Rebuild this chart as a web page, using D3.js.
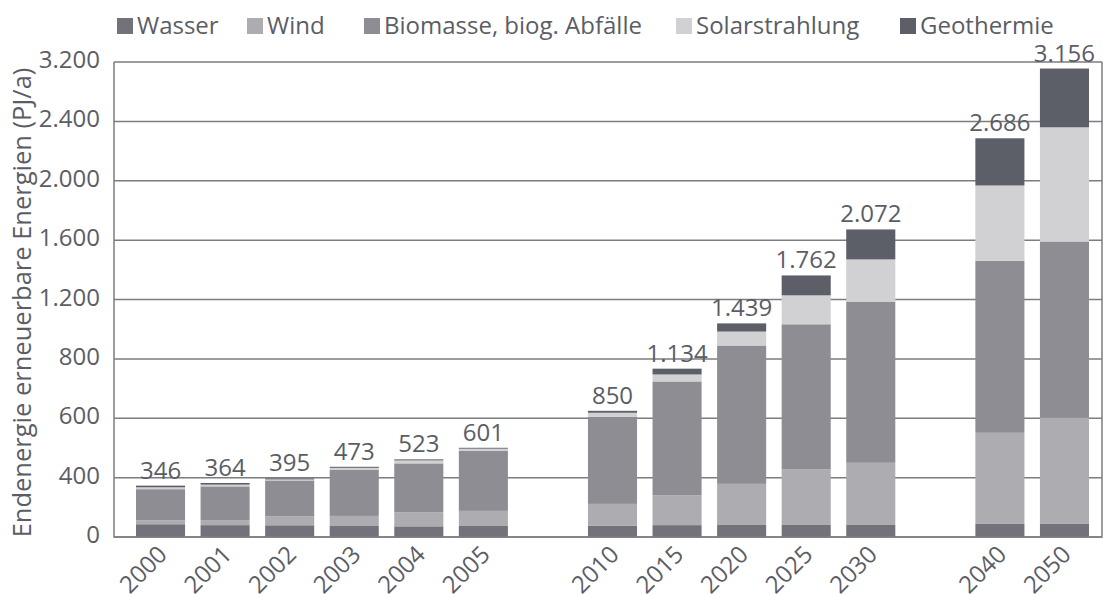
<!DOCTYPE html>
<html>
<head>
<meta charset="utf-8">
<script src="https://cdn.jsdelivr.net/npm/d3@7"></script>
<style>
  body { margin: 0; background: #fff; }
  text { font-family: "Open Sans", "Noto Sans", sans-serif; fill: #5b5d66; }
</style>
</head>
<body>
<svg id="vis" width="1103" height="594"></svg>
<script>
// slots in the x axis; "gap1"/"gap2" are empty spaces between the groups
const slots = ["2000", "2001", "2002", "2003", "2004", "2005", "gap1",
  "2010", "2015", "2020", "2025", "2030", "gap2", "2040", "2050"];
const years = ["2000", "2001", "2002", "2003", "2004", "2005",
  "2010", "2015", "2020", "2025", "2030", "2040", "2050"];

const wasser     = [86, 80, 79, 74, 72, 74, 75, 80, 81, 81, 81, 88, 88];
const wind       = [27, 34, 60, 68, 94, 102, 148, 202, 277, 376, 419, 614, 715];
const biomasse   = [209, 227, 242, 312, 330, 406, 587, 766, 932, 976, 1086, 1160, 1188];
const solar      = [13, 12, 7, 12, 20, 13, 27, 47, 94, 195, 284, 506, 769];
const geothermie = [11, 11, 7, 7, 7, 6, 13, 39, 55, 134, 202, 318, 396];
const totals     = ["346", "364", "395", "473", "523", "601",
  "850", "1.134", "1.439", "1.762", "2.072", "2.686", "3.156"];

const seriesNames = ["Wasser", "Wind", "Biomasse, biog. Abfälle", "Solarstrahlung", "Geothermie"];
const seriesKeys = ["wasser", "wind", "biomasse", "solar", "geothermie"];
const colors = ["#72727b", "#adacb0", "#8e8d93", "#d1d0d3", "#5c5e68"];

const yTicks = [0, 400, 800, 1200, 1600, 2000, 2400, 2800, 3200];
const yTickLabels = ["0", "400", "600", "800", "1.200", "1.600", "2.000", "2.400", "3.200"];

let table = years.map((y, i) => ({
  year: y, wasser: wasser[i], wind: wind[i], biomasse: biomasse[i],
  solar: solar[i], geothermie: geothermie[i], total: totals[i]
}));

let svg = d3.select("#vis");
let plotLeft = 114, plotRight = 1102, plotTop = 62, plotBottom = 537;

let x = d3.scaleBand()
  .domain(slots)
  .range([136, 1089])
  .paddingInner(0.24)
  .paddingOuter(0);

let y = d3.scaleLinear()
  .domain([0, 3200])
  .range([plotBottom, plotTop]);

// grid lines
svg.append("g")
  .selectAll("line")
  .data(yTicks)
  .enter()
  .append("line")
  .attr("x1", plotLeft)
  .attr("x2", plotRight)
  .attr("y1", d => y(d))
  .attr("y2", d => y(d))
  .attr("stroke", "#7c7c82")
  .attr("stroke-width", 1.5);

// y tick labels
svg.append("g")
  .selectAll("text")
  .data(yTicks)
  .enter()
  .append("text")
  .attr("x", 100)
  .attr("y", d => y(d) + 6)
  .attr("text-anchor", "end")
  .attr("font-size", 24)
  .text((d, i) => yTickLabels[i]);

// stacked bars
let stack = d3.stack().keys(seriesKeys);
let layers = stack(table);

svg.append("g")
  .selectAll("g")
  .data(layers)
  .enter()
  .append("g")
  .attr("fill", (d, i) => colors[i])
  .selectAll("rect")
  .data(d => d)
  .enter()
  .append("rect")
  .attr("x", d => x(d.data.year))
  .attr("width", x.bandwidth())
  .attr("y", d => y(d[1]))
  .attr("height", d => y(d[0]) - y(d[1]));

// axis frame
svg.append("path")
  .attr("d", `M${plotLeft},${plotTop}V${plotBottom}H${plotRight}V${plotTop}`)
  .attr("fill", "none")
  .attr("stroke", "#7c7c82")
  .attr("stroke-width", 1.5);

// totals
svg.append("g")
  .selectAll("text")
  .data(table)
  .enter()
  .append("text")
  .attr("x", d => x(d.year) + x.bandwidth() / 2)
  .attr("y", d => y(d.wasser + d.wind + d.biomasse + d.solar + d.geothermie) - 7)
  .attr("text-anchor", "middle")
  .attr("font-size", 24)
  .text(d => d.total);

// x labels
svg.append("g")
  .selectAll("text")
  .data(years)
  .enter()
  .append("text")
  .attr("transform", d => `translate(${x(d) + x.bandwidth() / 2 + 8},${plotBottom + 19}) rotate(-45)`)
  .attr("text-anchor", "end")
  .attr("font-size", 24)
  .text(d => d);

// y axis title
svg.append("text")
  .attr("transform", `translate(31,${(plotTop + plotBottom) / 2 + 3}) rotate(-90)`)
  .attr("text-anchor", "middle")
  .attr("font-size", 25.5)
  .text("Endenergie erneuerbare Energien (PJ/a)");

// legend
const legendX = [117, 247, 364, 676, 900];
let legend = svg.append("g")
  .selectAll("g")
  .data(seriesNames)
  .enter()
  .append("g")
  .attr("transform", (d, i) => `translate(${legendX[i]},0)`);

legend.append("rect")
  .attr("x", 0)
  .attr("y", 18)
  .attr("width", 16)
  .attr("height", 16)
  .attr("fill", (d, i) => colors[i]);

legend.append("text")
  .attr("x", 20)
  .attr("y", 34)
  .attr("font-size", 24)
  .text(d => d);
</script>
</body>
</html>
